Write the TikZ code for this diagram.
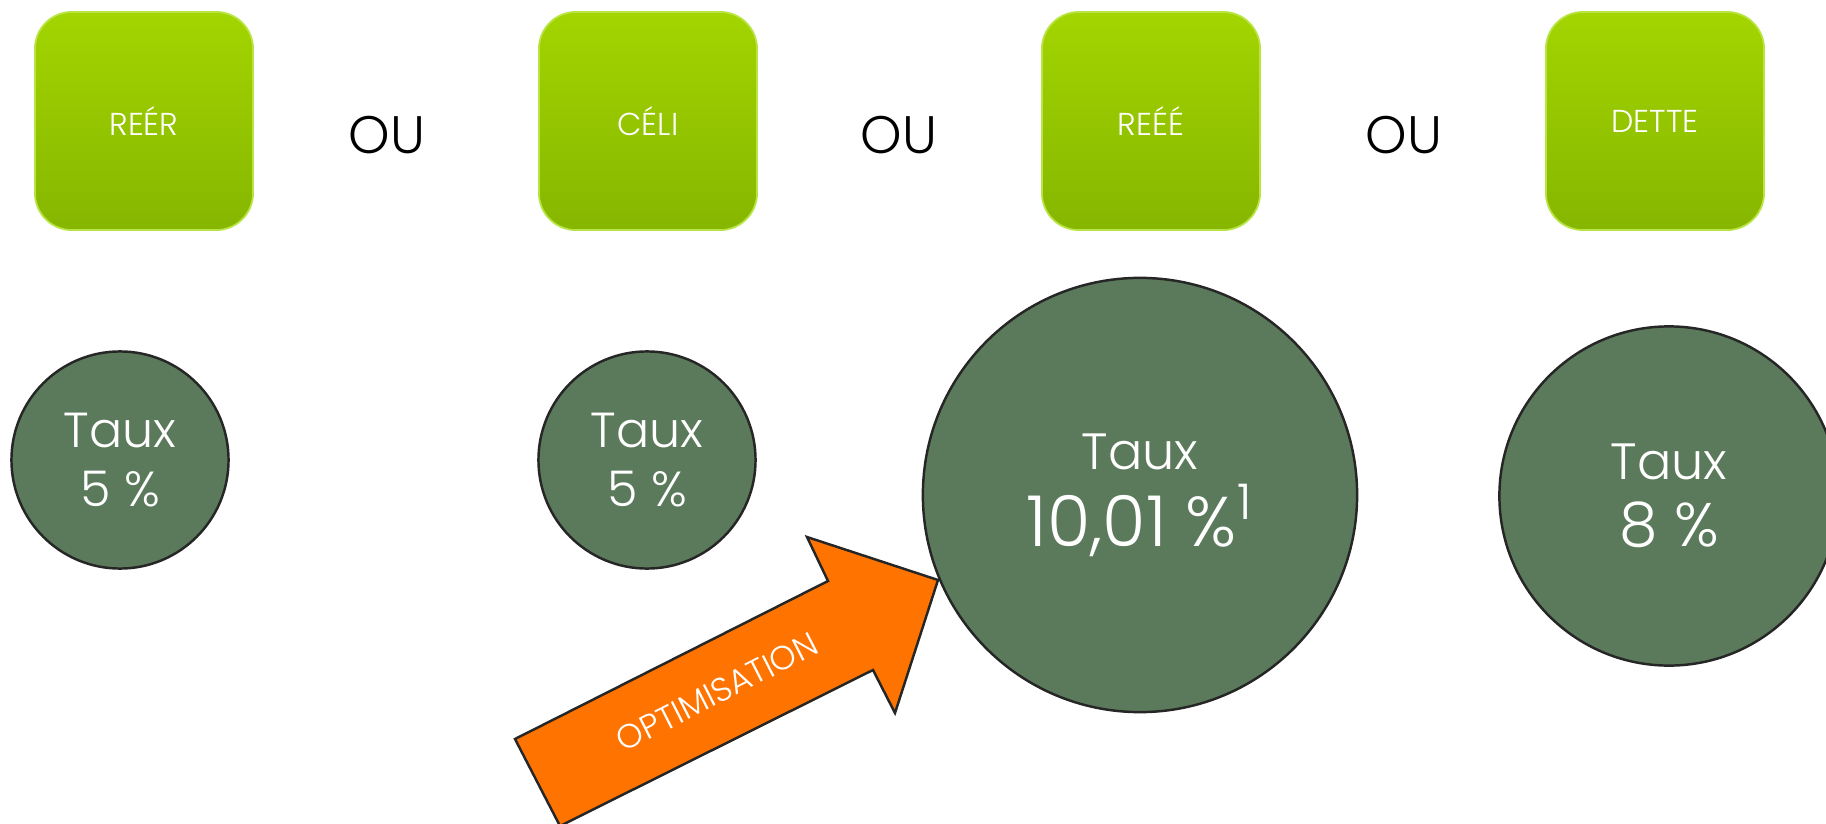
\documentclass[tikz,border=0pt]{standalone}
\usepackage{fontspec}
\setmainfont{Poppins}[UprightFont=* Light]
\definecolor{vertclair}{RGB}{163,213,0}
\definecolor{vertfonce}{RGB}{134,182,0}
\definecolor{bordvert}{RGB}{185,228,70}
\definecolor{vertgris}{RGB}{91,122,91}
\definecolor{orangevif}{RGB}{255,115,0}
\tikzset{
  compte/.style={
    rounded corners=10.5pt,
    minimum width=21.8mm,
    minimum height=21.8mm,
    top color=vertclair,
    bottom color=vertfonce,
    draw=bordvert,
    line width=0.5pt,
    inner sep=0pt,
    text=white,
    font=\fontsize{9}{10}\selectfont
  },
  ou/.style={text=black, inner sep=0pt, font=\fontsize{15}{18}\selectfont},
  taux/.style={
    circle,
    draw=black!85,
    fill=vertgris,
    line width=0.7pt,
    inner sep=0pt,
    align=center,
    text=white
  },
  fleche/.style={draw=black!85, fill=orangevif, line width=0.7pt}
}
\begin{document}
\begin{tikzpicture}[x=0.01cm,y=-0.01cm]
  \useasboundingbox (0,0) rectangle (1826,824);
  \clip (0,0) rectangle (1826,824);
  % comptes
  \node[compte] (reer)  at (144,121)  {REÉR};
  \node[compte] (celi)  at (648,121)  {CÉLI};
  \node[compte] (reee)  at (1151,121) {REÉÉ};
  \node[compte] (dette) at (1655,121) {DETTE};
  \node[ou] (ou1) at (387,135)  {OU};
  \node[ou] (ou2) at (899,135)  {OU};
  \node[ou] (ou3) at (1404,135) {OU};
  % taux
  \node[taux,minimum size=21.7mm,font=\fontsize{14}{17}\selectfont]
    (tauxreer) at (120,460) {Taux\\5~\%};
  \node[taux,minimum size=21.7mm,font=\fontsize{14}{17}\selectfont]
    (tauxceli) at (647,460) {Taux\\5~\%};
  \node[taux,minimum size=43.4mm,font=\fontsize{14.5}{22}\selectfont]
    (tauxreee) at (1140,495) {Taux\\{\fontsize{20}{22}\selectfont 10,01~\%\textsuperscript{1}}};
  \node[taux,minimum size=33.9mm,font=\fontsize{14.5}{19}\selectfont]
    (tauxdette) at (1669,496) {Taux\\{\fontsize{17.5}{19}\selectfont 8~\%}};
  % fleche
  \draw[fleche] (515,739) -- (828,581) -- (807,537) -- (938,580)
    -- (895,713) -- (873,670) -- (560,826) -- cycle;
  \node[text=white, rotate=27, font=\fontsize{9.5}{10}\selectfont]
    (optim) at (717,692) {OPTIMISATION};
\end{tikzpicture}
\end{document}
